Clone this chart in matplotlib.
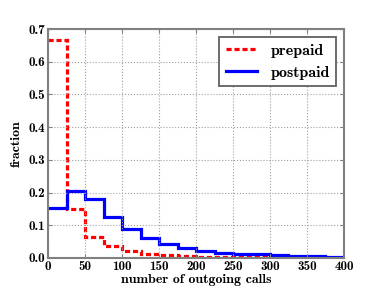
import matplotlib

matplotlib.use("Agg")
import matplotlib.pyplot as plt
import numpy as np

COLOR_PRE = "#ff0000"
COLOR_POST = "#0000ff"
COLOR_FRAME = "#808080"

# bin edges of the outgoing-calls histogram
bin_edges = [0, 25, 50, 75, 100, 125, 150, 175, 200, 225, 250, 275, 300, 325, 350, 375, 400]

prepaid = [0.668, 0.150, 0.064, 0.037, 0.020, 0.013, 0.008, 0.005,
           0.004, 0.003, 0.002, 0.002, 0.0015, 0.001, 0.0, 0.0]
postpaid = [0.152, 0.206, 0.179, 0.124, 0.088, 0.062, 0.042, 0.030,
            0.022, 0.016, 0.013, 0.011, 0.008, 0.006, 0.005, 0.004]

x_ticks = [0, 50, 100, 150, 200, 250, 300, 350, 400]
y_ticks = [0.0, 0.1, 0.2, 0.3, 0.4, 0.5, 0.6, 0.7]

plt.rcParams["font.family"] = ["cmb10", "DejaVu Serif"]
plt.rcParams["axes.unicode_minus"] = False

fig = plt.figure(figsize=(3.82, 2.88), dpi=100)
ax = fig.add_axes([0.1257, 0.1042, 0.7748, 0.7948])

ax.stairs(prepaid, bin_edges, baseline=None, color=COLOR_PRE, lw=2.3,
          linestyle=(0, (1.6, 0.9)), label="prepaid")
ax.stairs(postpaid, bin_edges, baseline=None, color=COLOR_POST, lw=2.3,
          label="postpaid")

ax.set_xlim(0, 400)
ax.set_ylim(0, 0.7)
ax.set_xticks(x_ticks)
ax.set_yticks(y_ticks)
ax.set_xticklabels([str(t) for t in x_ticks])
ax.set_yticklabels([f"{t:.1f}" for t in y_ticks])
ax.tick_params(direction="in", top=True, right=True, labelsize=9.5,
               length=3, color=COLOR_FRAME, pad=2)
for s in ax.spines.values():
    s.set_color(COLOR_FRAME)
    s.set_linewidth(1.5)

ax.grid(True, linestyle=":", color="#a0a0a0", lw=0.8)
ax.set_xlabel("number of outgoing calls", fontsize=10, labelpad=1)
ax.set_ylabel("fraction", fontsize=10, labelpad=4)

leg = ax.legend(loc="upper right", fontsize=11.5, fancybox=False, shadow=False,
                handlelength=2.0, borderaxespad=0.5, framealpha=1)
leg.get_frame().set_edgecolor("#606060")
leg.get_frame().set_linewidth(1.3)

fig.savefig("out.png", dpi=100)
